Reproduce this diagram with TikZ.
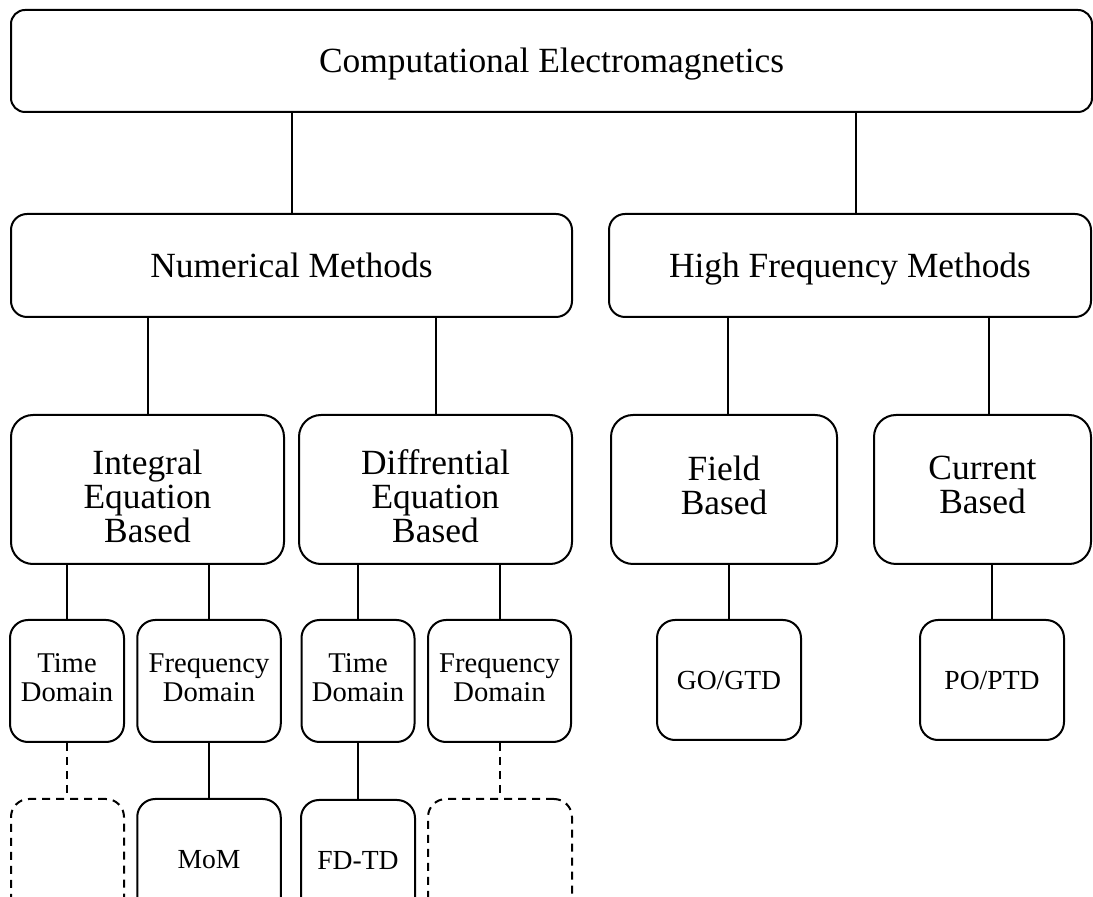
\documentclass[tikz,border=0pt]{standalone}
\usepackage{fontspec}
\setmainfont{Liberation Serif}
\newcommand\topstrut{\rule{0pt}{0.91em}}
\newcommand\botstrut{\rule[-0.25em]{0pt}{0.25em}}
\begin{document}
\begin{tikzpicture}[x=0.5pt,y=-0.5pt,
  box/.style={draw, line width=1pt, align=center, inner sep=0pt, rounded corners=#1,
    execute at begin node=\topstrut, execute at end node=\botstrut},
  box/.default=9pt,
  big/.style={font=\fontsize{17.7}{17}\selectfont},
  small/.style={font=\fontsize{14.3}{14.5}\selectfont},
  mid/.style={font=\fontsize{13.8}{15}\selectfont},
  link/.style={line width=1pt},
  dlink/.style={line width=1pt, dash pattern=on 4pt off 3pt},
  ghost/.style={draw, line width=1pt, inner sep=0pt, rounded corners=9pt, dash pattern=on 4pt off 3pt}]
\useasboundingbox (0,0) rectangle (1093,897);
\clip (0,0) rectangle (1093,897);
% level 1
\node[box=7pt, big, minimum width=1081*0.5pt, minimum height=102*0.5pt] (top) at (551.5,61) {Computational Electromagnetics};
% level 2
\node[box=8pt, big, minimum width=561*0.5pt, minimum height=103*0.5pt] (num) at (291.5,265.5) {Numerical Methods};
\node[box=8pt, big, minimum width=482*0.5pt, minimum height=103*0.5pt] (hf) at (850,265.5) {High Frequency Methods};
% level 3
\node[box=11pt, big, minimum width=273*0.5pt, minimum height=149*0.5pt] (ie) at (147.5,489.5) {};
\node[big, align=center, inner sep=0pt] (iet) at (147.5,496.5) {\topstrut Integral\\Equation\\Based\botstrut};
\node[box=11pt, big, minimum width=273*0.5pt, minimum height=149*0.5pt] (de) at (435.5,489.5) {};
\node[big, align=center, inner sep=0pt] (det) at (435.5,496.5) {\topstrut Diffrential\\Equation\\Based\botstrut};
\node[box=11pt, big, minimum width=226*0.5pt, minimum height=149*0.5pt] (fb) at (724,489.5) {Field\\Based};
\node[box=11pt, big, minimum width=217*0.5pt, minimum height=149*0.5pt] (cb) at (982.5,489.5) {Current\\Based};
% level 4
\node[box, small, minimum width=114*0.5pt, minimum height=122*0.5pt] (td1) at (67,681) {Time\\Domain};
\node[box, small, minimum width=143.5*0.5pt, minimum height=122*0.5pt] (fd1) at (209,681) {Frequency\\Domain};
\node[box, small, minimum width=113*0.5pt, minimum height=122*0.5pt] (td2) at (358,681) {Time\\Domain};
\node[box, small, minimum width=143*0.5pt, minimum height=122*0.5pt] (fd2) at (499.5,681) {Frequency\\Domain};
\node[box, mid, minimum width=144*0.5pt, minimum height=120*0.5pt] (go) at (729,680) {GO/GTD};
\node[box, mid, minimum width=144*0.5pt, minimum height=120*0.5pt] (po) at (992,680) {PO/PTD};
% level 5
\node[ghost, minimum width=113*0.5pt, minimum height=120*0.5pt] (g1) at (67.5,859) {};
\node[box, mid, minimum width=143.5*0.5pt, minimum height=120*0.5pt] (mom) at (209,859) {MoM};
\node[box, mid, minimum width=114*0.5pt, minimum height=120*0.5pt] (fdtd) at (358,860) {FD-TD};
\node[ghost, minimum width=144*0.5pt, minimum height=120*0.5pt] (g2) at (500,859) {};
% connectors
\draw[link] (top.south -| num.north) -- (num.north);
\draw[link] ([xshift=3pt]top.south -| hf.north) -- ([xshift=3pt]hf.north);
\draw[link] (num.south -| ie.north) -- (ie.north);
\draw[link] (num.south -| de.north) -- (de.north);
\draw[link] ([xshift=2pt]hf.south -| fb.north) -- ([xshift=2pt]fb.north);
\draw[link] ([xshift=3pt]hf.south -| cb.north) -- ([xshift=3pt]cb.north);
\draw[link] (ie.south -| td1.north) -- (td1.north);
\draw[link] (ie.south -| fd1.north) -- (fd1.north);
\draw[link] (de.south -| td2.north) -- (td2.north);
\draw[link] (de.south -| fd2.north) -- (fd2.north);
\draw[link] (fb.south -| go.north) -- (go.north);
\draw[link] (cb.south -| po.north) -- (po.north);
\draw[dlink] (td1.south) -- (td1.south |- g1.north);
\draw[link] (fd1.south) -- (mom.north);
\draw[link] (td2.south) -- (td2.south |- fdtd.north);
\draw[dlink] (fd2.south) -- (fd2.south |- g2.north);
\end{tikzpicture}
\end{document}
